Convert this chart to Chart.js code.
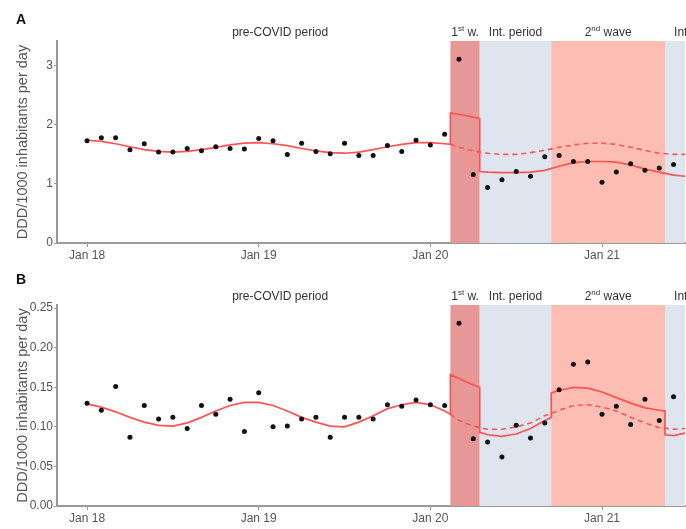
<!DOCTYPE html>
<html>
<head>
<meta charset="utf-8">
<script src="https://cdn.jsdelivr.net/npm/chart.js@4.4.1/dist/chart.umd.min.js"></script>
<style>
  body { margin: 0; background: #fff; }
  .panel { position: absolute; left: 0; width: 686px; overflow: hidden; }
</style>
</head>
<body>
<div class="panel" style="top:0;height:265px"><canvas id="chartA" width="689" height="265"></canvas></div>
<div class="panel" style="top:265px;height:264px"><canvas id="chartB" width="689" height="264"></canvas></div>
<script>
// months counted from Jan 2018 (0 = Jan 18)
const months = [0,1,2,3,4,5,6,7,8,9,10,11,12,13,14,15,16,17,18,19,20,21,22,23,24,25,26,27,28,29,30,31,32,33,34,35,36,37,38,39,40,41];

// observed monthly consumption
const obsA = [1.73,1.78,1.78,1.58,1.68,1.54,1.54,1.60,1.56,1.63,1.60,1.59,1.77,1.73,1.50,1.69,1.55,1.51,1.69,1.48,1.48,1.65,1.55,1.74,1.66,1.84,3.11,1.16,0.94,1.07,1.21,1.13,1.46,1.48,1.38,1.38,1.03,1.20,1.34,1.23,1.27,1.33];
const obsB = [0.130,0.121,0.151,0.087,0.127,0.110,0.112,0.098,0.127,0.116,0.135,0.094,0.143,0.100,0.101,0.110,0.112,0.087,0.112,0.112,0.110,0.128,0.126,0.134,0.128,0.127,0.231,0.085,0.081,0.062,0.102,0.086,0.105,0.147,0.179,0.182,0.116,0.126,0.103,0.135,0.108,0.138];

// model fit (solid line)
const fitMonthsA = [0,1,2,3,4,5,6,7,8,9,10,11,12,13,14,15,16,17,18,19,20,21,22,23,24,25,25.4,25.4,26,27,27.45,27.45,28,29,30,31,32,33,34,35,36,37,38,39,40,41,41.8];
const fitA = [1.74,1.72,1.68,1.63,1.58,1.55,1.54,1.55,1.58,1.62,1.66,1.69,1.70,1.68,1.65,1.60,1.56,1.53,1.52,1.54,1.58,1.63,1.67,1.70,1.70,1.68,1.67,2.20,2.18,2.13,2.11,1.21,1.20,1.19,1.19,1.20,1.23,1.30,1.36,1.38,1.38,1.37,1.32,1.25,1.20,1.15,1.13];

const fitMonthsB = [0,1,2,3,4,5,6,7,8,9,10,11,12,13,14,15,16,17,18,19,20,21,22,23,24,25,25.4,25.4,26,27,27.45,27.45,28,29,30,31,32,32.45,32.45,33,34,35,36,37,38,39,40,40.4,40.4,41,41.8];
const fitB = [0.129,0.125,0.119,0.112,0.106,0.102,0.101,0.105,0.112,0.120,0.127,0.131,0.131,0.127,0.120,0.112,0.106,0.101,0.100,0.106,0.114,0.123,0.128,0.131,0.128,0.120,0.116,0.166,0.161,0.153,0.150,0.093,0.090,0.088,0.091,0.098,0.108,0.112,0.143,0.146,0.150,0.149,0.144,0.137,0.130,0.124,0.121,0.120,0.090,0.089,0.092];

// expected without COVID (dashed line)
const cfMonths = [25.4,26,27,28,29,30,31,32,33,34,35,36,37,38,39,40,41,41.8];
const cfA = [1.67,1.62,1.56,1.52,1.50,1.50,1.53,1.57,1.62,1.66,1.69,1.69,1.67,1.62,1.57,1.52,1.50,1.50];
const cfB = [0.116,0.108,0.101,0.097,0.097,0.100,0.105,0.114,0.121,0.127,0.128,0.125,0.120,0.112,0.105,0.099,0.097,0.098];

// pandemic periods (month edges)
const periodEdges = [25.4, 27.45, 32.45, 40.4, 45.4];
const periodNames = ["1^st w.", "Int. period", "2^nd wave", "Int. period"];

const xTickValues = [0, 12, 24, 36];
const xTickLabels = ["Jan 18", "Jan 19", "Jan 20", "Jan 21"];
const yTicksA = [0, 1, 2, 3];
const yTicksB = [0, 0.05, 0.10, 0.15, 0.20, 0.25];

const bandColors = ["#e89797", "#dfe5ef", "#fdbdb2", "#dfe5ef"];
const lineRed = "#ff5252";
const axisGray = "#9a9a9a";
const FONT = '"Liberation Sans", Arial, sans-serif';

Chart.defaults.font.family = FONT;
Chart.defaults.animation = false;

function drawRich(ctx, text, cx, cy) {
  const parts = text.split(/(\^\w+)/).filter(p => p).map(p => p[0] === "^" ? {t: p.slice(1), sup: true} : {t: p, sup: false});
  const fontFor = p => (p.sup ? "8px " : "12px ") + FONT;
  let total = 0;
  parts.forEach(p => { ctx.font = fontFor(p); total += ctx.measureText(p.t).width; });
  let x = cx - total / 2;
  ctx.textAlign = "left";
  ctx.textBaseline = "middle";
  parts.forEach(p => {
    ctx.font = fontFor(p);
    ctx.fillText(p.t, x, p.sup ? cy - 4 : cy);
    x += ctx.measureText(p.t).width;
  });
}

const periodsPlugin = {
  id: "periods",
  beforeDatasetsDraw(chart) {
    const {ctx, chartArea: a, scales: {x}} = chart;
    ctx.save();
    ctx.beginPath();
    ctx.rect(a.left, a.top, a.right - a.left, a.bottom - a.top);
    ctx.clip();
    for (let i = 0; i < periodNames.length; i++) {
      const x0 = x.getPixelForValue(periodEdges[i]);
      const x1 = x.getPixelForValue(periodEdges[i + 1]);
      ctx.fillStyle = bandColors[i];
      ctx.fillRect(x0, a.top, x1 - x0, a.bottom - a.top);
    }
    ctx.restore();
  },
  afterDraw(chart, args, opts) {
    const {ctx, chartArea: a, scales: {x}} = chart;
    ctx.save();
    ctx.fillStyle = "#333";
    const y = a.top - 8;
    drawRich(ctx, "pre-COVID period", x.getPixelForValue(13.5), y);
    for (let i = 0; i < periodNames.length; i++) {
      drawRich(ctx, periodNames[i], x.getPixelForValue((periodEdges[i] + periodEdges[i + 1]) / 2), y);
    }
    ctx.font = "bold 14px " + FONT;
    ctx.fillStyle = "#111";
    ctx.textAlign = "left";
    ctx.textBaseline = "middle";
    ctx.fillText(opts.letter, 16, opts.letterY);
    ctx.restore();
  }
};

function makePanel(id, cfg) {
  const toXY = (xs, ys) => xs.map((m, i) => ({x: m, y: ys[i]}));
  return new Chart(document.getElementById(id), {
    type: "scatter",
    data: {
      datasets: [
        {
          data: toXY(months, cfg.obs),
          pointRadius: 2.5,
          pointBackgroundColor: "#111",
          pointBorderWidth: 0
        },
        {
          data: toXY(cfg.fitMonths, cfg.fit),
          showLine: true,
          pointRadius: 0,
          borderColor: lineRed,
          borderWidth: 1.7
        },
        {
          data: toXY(cfMonths, cfg.cf),
          showLine: true,
          pointRadius: 0,
          borderColor: lineRed,
          borderWidth: 1.6,
          borderDash: [5, 4]
        }
      ]
    },
    options: {
      responsive: false,
      devicePixelRatio: 1,
      layout: {padding: {top: cfg.top, left: 0, right: 0, bottom: 0}},
      plugins: {
        legend: {display: false},
        tooltip: {enabled: false},
        periods: {letter: cfg.letter, letterY: cfg.letterY}
      },
      scales: {
        x: {
          type: "linear",
          min: -2.1,
          max: 41.8,
          afterBuildTicks: s => { s.ticks = xTickValues.map(v => ({value: v})); },
          afterFit: s => { s.height = cfg.xHeight; },
          grid: {drawOnChartArea: false, drawTicks: true, tickLength: 4, color: axisGray},
          border: {color: axisGray, width: 2},
          ticks: {
            color: "#555",
            font: {size: 12},
            padding: 1,
            maxRotation: 0,
            callback: v => xTickLabels[xTickValues.indexOf(v)]
          }
        },
        y: {
          min: 0,
          max: cfg.ymax,
          afterBuildTicks: s => { s.ticks = cfg.yTicks.map(v => ({value: v})); },
          afterFit: s => { s.width = 57; },
          grid: {drawOnChartArea: false, drawTicks: true, tickLength: 3, color: axisGray},
          border: {color: axisGray, width: 2},
          ticks: {
            color: "#555",
            font: {size: 12},
            padding: 1,
            callback: cfg.fmt
          },
          title: {
            display: true,
            text: "DDD/1000 inhabitants per day",
            color: "#555",
            font: {size: 14.5},
            padding: {top: 14, bottom: 0}
          }
        }
      }
    },
    plugins: [periodsPlugin]
  });
}

makePanel("chartA", {
  obs: obsA, fit: fitA, fitMonths: fitMonthsA, cf: cfA,
  ymax: 3.42, yTicks: yTicksA, fmt: v => String(v),
  top: 41, xHeight: 22, letter: "A", letterY: 20
});
makePanel("chartB", {
  obs: obsB, fit: fitB, fitMonths: fitMonthsB, cf: cfB,
  ymax: 0.254, yTicks: yTicksB, fmt: v => v.toFixed(2),
  top: 40, xHeight: 23, letter: "B", letterY: 15
});
</script>
</body>
</html>
